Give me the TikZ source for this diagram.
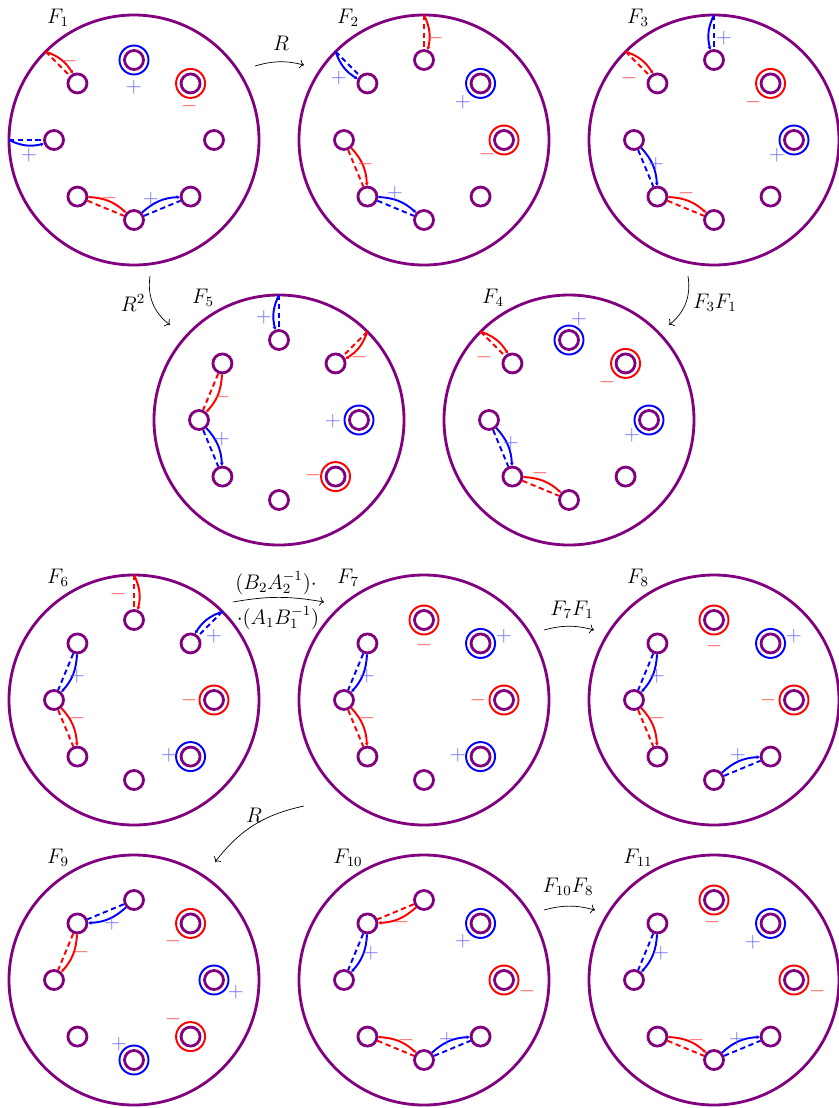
\documentclass[tikz,border=0pt]{standalone}
\usetikzlibrary{arrows.meta,calc,positioning}
\tikzset{
  every node/.style={font=\fontsize{11.5}{13}\selectfont},
  bdry/.style={draw=violet, line width=1.6pt},
  hole/.style={circle, draw=violet, line width=1.6pt, minimum size=0.38cm, inner sep=0pt},
  posring/.style={draw=blue, line width=1.1pt},
  negring/.style={draw=red, line width=1.1pt},
  posarc/.style={draw=blue, line width=1.1pt},
  negarc/.style={draw=red, line width=1.1pt},
  twin/.style={dash pattern=on 3pt off 2pt},
  tip/.style={-{Stealth[length=1.8pt,width=2.2pt]}},
  plus/.style={text=blue!60, inner sep=1pt},
  minus/.style={text=red!70, inner sep=1pt},
  move/.style={->, line width=0.4pt},
}
% disk with eight holes: name, centre, label
\newcommand{\drawsurface}[3]{%
  \coordinate (#1) at (#2);
  \draw[bdry] (#1) circle (2.5);
  \foreach \d/\a in {t/90,tr/45,r/0,br/-45,b/-90,bl/-135,l/180,tl/135}{
    \node[hole] (#1-\d) at ($(#1)+(\a:1.6)$) {};
    \coordinate (#1-e\d) at ($(#1)+(\a:2.5)$);
  }
  \node (#1-name) at ($(#1)+(-1.52,2.45)$) {$#3$};
}
\newcommand{\markring}[2]{\draw[#1] (#2.center) circle (0.29);}
% solid arc plus dashed copy
\newcommand{\twinarc}[4]{%
  \draw[#1, tip] (#2) to[bend left=#4] (#3);
  \draw[#1, twin] (#2) to (#3);
}

\begin{document}
\begin{tikzpicture}[x=1cm,y=1cm]
  \useasboundingbox (-2.68,-19.36) rectangle (14.10,2.80);
  % row 1
  \drawsurface{F1}{0,0}{F_1}
  \drawsurface{F2}{5.8,0}{F_2}
  \drawsurface{F3}{11.6,0}{F_3}
  % row 2
  \drawsurface{F5}{2.9,-5.6}{F_5}
  \drawsurface{F4}{8.7,-5.6}{F_4}
  % row 3
  \drawsurface{F6}{0,-11.2}{F_6}
  \drawsurface{F7}{5.8,-11.2}{F_7}
  \drawsurface{F8}{11.6,-11.2}{F_8}
  % row 4
  \drawsurface{F9}{0,-16.8}{F_9}
  \drawsurface{F10}{5.8,-16.8}{F_{10}}
  \drawsurface{F11}{11.6,-16.8}{F_{11}}

  % F1
  \markring{posring}{F1-t}
  \markring{negring}{F1-tr}
  \twinarc{negarc}{F1-etl}{F1-tl}{20}
  \twinarc{posarc}{F1-el}{F1-l}{-20}
  \twinarc{negarc}{F1-bl}{F1-b}{20}
  \twinarc{posarc}{F1-b}{F1-br}{20}
  \node[plus] (F1p1) at ($(F1)+(0,1.06)$) {$+$};
  \node[minus] (F1m1) at ($(F1)+(1.10,0.68)$) {$-$};
  \node[minus] (F1m2) at ($(F1)+(-1.30,1.58)$) {$-$};
  \node[plus] (F1p2) at ($(F1)+(-2.10,-0.30)$) {$+$};
  \node[minus] (F1m3) at ($(F1)+(-0.50,-1.16)$) {$-$};
  \node[plus] (F1p3) at ($(F1)+(0.34,-1.18)$) {$+$};

  % F2
  \markring{posring}{F2-tr}
  \markring{negring}{F2-r}
  \twinarc{negarc}{F2-et}{F2-t}{20}
  \twinarc{posarc}{F2-etl}{F2-tl}{-20}
  \twinarc{negarc}{F2-l}{F2-bl}{20}
  \twinarc{posarc}{F2-bl}{F2-b}{20}
  \node[minus] (F2m1) at ($(F2)+(0.22,2.04)$) {$-$};
  \node[plus] (F2p1) at ($(F2)+(-1.70,1.24)$) {$+$};
  \node[plus] (F2p2) at ($(F2)+(0.78,0.76)$) {$+$};
  \node[minus] (F2m2) at ($(F2)+(1.26,-0.28)$) {$-$};
  \node[minus] (F2m3) at ($(F2)+(-1.18,-0.48)$) {$-$};
  \node[plus] (F2p3) at ($(F2)+(-0.58,-1.06)$) {$+$};

  % F3
  \markring{negring}{F3-tr}
  \markring{posring}{F3-r}
  \twinarc{posarc}{F3-et}{F3-t}{-20}
  \twinarc{negarc}{F3-etl}{F3-tl}{20}
  \twinarc{posarc}{F3-l}{F3-bl}{20}
  \twinarc{negarc}{F3-bl}{F3-b}{20}
  \node[plus] (F3p1) at ($(F3)+(0.20,2.04)$) {$+$};
  \node[minus] (F3m1) at ($(F3)+(-1.70,1.24)$) {$-$};
  \node[minus] (F3m2) at ($(F3)+(0.78,0.76)$) {$-$};
  \node[plus] (F3p2) at ($(F3)+(1.26,-0.30)$) {$+$};
  \node[plus] (F3p3) at ($(F3)+(-1.16,-0.48)$) {$+$};
  \node[minus] (F3m3) at ($(F3)+(-0.56,-1.06)$) {$-$};

  % F5
  \markring{posring}{F5-r}
  \markring{negring}{F5-br}
  \twinarc{posarc}{F5-et}{F5-t}{-20}
  \twinarc{negarc}{F5-etr}{F5-tr}{20}
  \twinarc{negarc}{F5-tl}{F5-l}{20}
  \twinarc{posarc}{F5-l}{F5-bl}{20}
  \node[plus] (F5p1) at ($(F5)+(-0.30,2.06)$) {$+$};
  \node[minus] (F5m1) at ($(F5)+(1.60,1.26)$) {$-$};
  \node[plus] (F5p2) at ($(F5)+(1.08,-0.02)$) {$+$};
  \node[minus] (F5m2) at ($(F5)+(0.68,-1.10)$) {$-$};
  \node[minus] (F5m3) at ($(F5)+(-1.14,0.46)$) {$-$};
  \node[plus] (F5p3) at ($(F5)+(-1.14,-0.38)$) {$+$};

  % F4
  \markring{posring}{F4-t}
  \markring{negring}{F4-tr}
  \markring{posring}{F4-r}
  \twinarc{negarc}{F4-etl}{F4-tl}{20}
  \twinarc{posarc}{F4-l}{F4-bl}{20}
  \twinarc{negarc}{F4-bl}{F4-b}{20}
  \node[plus] (F4p1) at ($(F4)+(0.20,2.02)$) {$+$};
  \node[minus] (F4m1) at ($(F4)+(0.76,0.76)$) {$-$};
  \node[plus] (F4p2) at ($(F4)+(1.26,-0.30)$) {$+$};
  \node[minus] (F4m2) at ($(F4)+(-1.70,1.26)$) {$-$};
  \node[plus] (F4p3) at ($(F4)+(-1.16,-0.46)$) {$+$};
  \node[minus] (F4m3) at ($(F4)+(-0.58,-1.06)$) {$-$};

  % F6
  \markring{negring}{F6-r}
  \markring{posring}{F6-br}
  \twinarc{negarc}{F6-et}{F6-t}{20}
  \twinarc{posarc}{F6-etr}{F6-tr}{-20}
  \twinarc{posarc}{F6-tl}{F6-l}{20}
  \twinarc{negarc}{F6-l}{F6-bl}{20}
  \node[minus] (F6m1) at ($(F6)+(-0.32,2.12)$) {$-$};
  \node[plus] (F6p1) at ($(F6)+(1.60,1.28)$) {$+$};
  \node[minus] (F6m2) at ($(F6)+(1.10,0)$) {$-$};
  \node[plus] (F6p2) at ($(F6)+(0.70,-1.10)$) {$+$};
  \node[plus] (F6p3) at ($(F6)+(-1.14,0.48)$) {$+$};
  \node[minus] (F6m3) at ($(F6)+(-1.14,-0.36)$) {$-$};

  % F7
  \markring{negring}{F7-t}
  \markring{posring}{F7-tr}
  \markring{negring}{F7-r}
  \markring{posring}{F7-br}
  \twinarc{posarc}{F7-tl}{F7-l}{20}
  \twinarc{negarc}{F7-l}{F7-bl}{20}
  \node[minus] (F7m1) at ($(F7)+(0,1.10)$) {$-$};
  \node[plus] (F7p1) at ($(F7)+(1.60,1.28)$) {$+$};
  \node[minus] (F7m2) at ($(F7)+(1.08,0)$) {$-$};
  \node[plus] (F7p2) at ($(F7)+(0.68,-1.10)$) {$+$};
  \node[plus] (F7p3) at ($(F7)+(-1.14,0.48)$) {$+$};
  \node[minus] (F7m3) at ($(F7)+(-1.14,-0.36)$) {$-$};

  % F8
  \markring{negring}{F8-t}
  \markring{posring}{F8-tr}
  \markring{negring}{F8-r}
  \twinarc{posarc}{F8-tl}{F8-l}{20}
  \twinarc{negarc}{F8-l}{F8-bl}{20}
  \twinarc{posarc}{F8-b}{F8-br}{20}
  \node[minus] (F8m1) at ($(F8)+(0,1.08)$) {$-$};
  \node[plus] (F8p1) at ($(F8)+(1.60,1.28)$) {$+$};
  \node[minus] (F8m2) at ($(F8)+(1.08,0)$) {$-$};
  \node[plus] (F8p2) at ($(F8)+(0.48,-1.10)$) {$+$};
  \node[plus] (F8p3) at ($(F8)+(-1.14,0.48)$) {$+$};
  \node[minus] (F8m3) at ($(F8)+(-1.14,-0.36)$) {$-$};

  % F9
  \markring{negring}{F9-tr}
  \markring{posring}{F9-r}
  \markring{negring}{F9-br}
  \markring{posring}{F9-b}
  \twinarc{posarc}{F9-t}{F9-tl}{20}
  \twinarc{negarc}{F9-tl}{F9-l}{20}
  \node[plus] (F9p1) at ($(F9)+(-0.44,1.14)$) {$+$};
  \node[minus] (F9m1) at ($(F9)+(-1.06,0.56)$) {$-$};
  \node[minus] (F9m2) at ($(F9)+(0.78,0.78)$) {$-$};
  \node[plus] (F9p2) at ($(F9)+(2.04,-0.24)$) {$+$};
  \node[minus] (F9m3) at ($(F9)+(0.78,-0.78)$) {$-$};
  \node[plus] (F9p3) at ($(F9)+(-0.30,-1.28)$) {$+$};

  % F10
  \markring{posring}{F10-tr}
  \markring{negring}{F10-r}
  \twinarc{negarc}{F10-t}{F10-tl}{20}
  \twinarc{posarc}{F10-tl}{F10-l}{20}
  \twinarc{negarc}{F10-bl}{F10-b}{20}
  \twinarc{posarc}{F10-b}{F10-br}{20}
  \node[minus] (F10m1) at ($(F10)+(-0.46,1.16)$) {$-$};
  \node[plus] (F10p1) at ($(F10)+(-1.06,0.54)$) {$+$};
  \node[plus] (F10p2) at ($(F10)+(0.78,0.78)$) {$+$};
  \node[minus] (F10m2) at ($(F10)+(2.06,-0.22)$) {$-$};
  \node[minus] (F10m3) at ($(F10)+(-0.36,-1.20)$) {$-$};
  \node[plus] (F10p3) at ($(F10)+(0.46,-1.18)$) {$+$};

  % F11
  \markring{negring}{F11-t}
  \markring{posring}{F11-tr}
  \markring{negring}{F11-r}
  \twinarc{posarc}{F11-tl}{F11-l}{20}
  \twinarc{negarc}{F11-bl}{F11-b}{20}
  \twinarc{posarc}{F11-b}{F11-br}{20}
  \node[minus] (F11m1) at ($(F11)+(-0.04,1.16)$) {$-$};
  \node[plus] (F11p1) at ($(F11)+(0.78,0.76)$) {$+$};
  \node[minus] (F11m2) at ($(F11)+(2.06,-0.22)$) {$-$};
  \node[plus] (F11p2) at ($(F11)+(-1.06,0.54)$) {$+$};
  \node[minus] (F11m3) at ($(F11)+(-0.36,-1.20)$) {$-$};
  \node[plus] (F11p3) at ($(F11)+(0.46,-1.18)$) {$+$};

  % maps between the surfaces
  \coordinate (a1) at (2.42,1.48);
  \coordinate (b1) at (3.40,1.50);
  \draw[move] (a1) to[bend left=15] (b1);
  \node (l1) at (2.94,1.94) {$R$};
  \coordinate (a2) at (0.32,-2.72);
  \coordinate (b2) at (0.72,-3.70);
  \draw[move] (a2) to[bend right=30] (b2);
  \node (l2) at (-0.02,-3.26) {$R^2$};
  \coordinate (a3) at (11.08,-2.72);
  \coordinate (b3) at (10.70,-3.70);
  \draw[move] (a3) to[bend left=30] (b3);
  \node[anchor=west] (l3) at (11.06,-3.26) {$F_3F_1$};
  \coordinate (a4) at (1.98,-9.24);
  \coordinate (b4) at (3.80,-9.24);
  \draw[move] (a4) to[bend left=10] (b4);
  \node (l4a) at (2.84,-8.86) {$(B_2A_2^{-1})\cdot$};
  \node (l4b) at (2.88,-9.56) {$\cdot(A_1B_1^{-1})$};
  \coordinate (a5) at (8.20,-9.80);
  \coordinate (b5) at (9.20,-9.80);
  \draw[move] (a5) to[bend left=15] (b5);
  \node (l5) at (8.76,-9.40) {$F_7F_1$};
  \coordinate (a6) at (3.40,-13.32);
  \coordinate (b6) at (1.62,-14.44);
  \draw[move] (a6) to[bend right=20] (b6);
  \node (l6) at (2.40,-13.50) {$R$};
  \coordinate (a7) at (8.20,-15.40);
  \coordinate (b7) at (9.22,-15.40);
  \draw[move] (a7) to[bend left=15] (b7);
  \node (l7) at (8.68,-14.94) {$F_{10}F_8$};
\end{tikzpicture}
\end{document}
